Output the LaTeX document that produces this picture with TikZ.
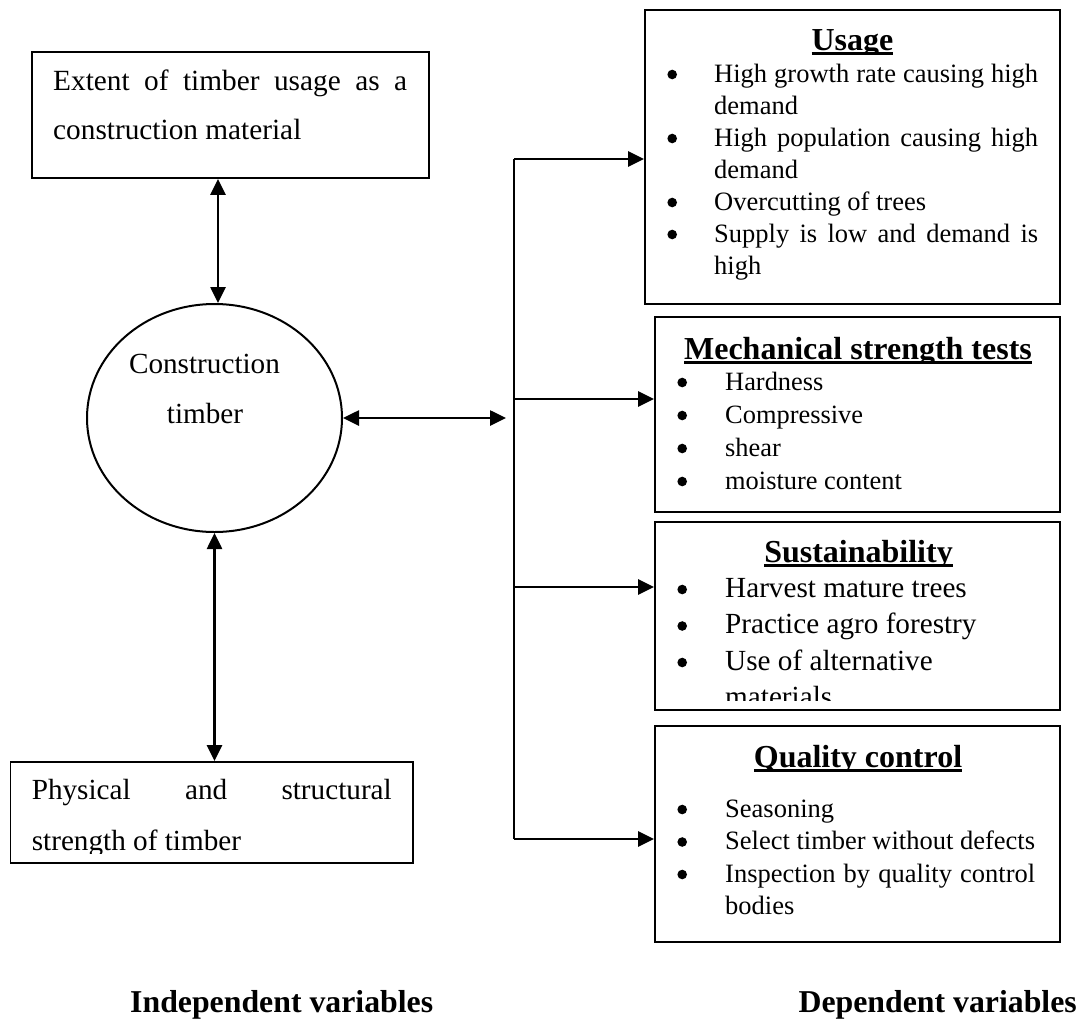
\documentclass[tikz,border=0pt]{standalone}
\usepackage{fontspec}
\setmainfont{Liberation Serif}
\usetikzlibrary{shapes.geometric,arrows.meta}
\newcommand\fsz[2]{\fontsize{#1pt}{#2pt}\selectfont}
\newlength\hng
\newcommand\bdot{\tikz[x=1pt,y=1pt,baseline=0pt]\fill[black] (4.8,7.5) circle[radius=4.8pt];}
\newcommand\bitem[1]{\par\noindent\hangindent=\hng\hangafter=1\makebox[\hng][l]{\bdot}#1}
\newcommand\jline[2]{\leavevmode\hbox to #1{#2}}
\newcommand\ttl[1]{\setbox0\hbox{\bfseries #1}\copy0\llap{\color{white}\rule[-14pt]{\wd0}{9pt}}\llap{\rule[-5pt]{\wd0}{2.6pt}}}
\tikzset{
  box/.style={draw, line width=1.8pt, rectangle, inner sep=0pt},
  txt/.style={inner sep=0pt, anchor=base west},
  arr/.style={line width=2.6pt, -{Triangle[length=16pt,width=15pt]}},
  dbl/.style={line width=2.6pt, {Triangle[length=16pt,width=15pt]}-{Triangle[length=16pt,width=15pt]}},
  bus/.style={line width=2pt}
}
\begin{document}
\begin{tikzpicture}[x=1pt,y=-1pt]
\useasboundingbox (0,0) rectangle (1084,1020);
% left side
\node[box, minimum width=397pt, minimum height=126pt] (ext) at (230.5,115) {};
\node[txt] (exttxt) at (53,90) {\parbox[t]{360pt}{\fsz{29.3}{49}\raggedright\noindent\jline{354pt}{Extent of timber usage as a}\newline construction material}};
\node[draw, line width=2pt, ellipse, minimum width=255pt, minimum height=228pt, inner sep=0pt] (ct) at (214.5,418) {};
\node[inner sep=0pt, anchor=base] (ct1) at (204.5,373) {\fsz{29.2}{35}Construction};
\node[inner sep=0pt, anchor=base] (ct2) at (205,423) {\fsz{29.2}{35}timber};
\node[box, minimum width=402.5pt, minimum height=101pt] (phys) at (211.75,812.5) {};
\begin{scope}
\clip (10,762) rectangle (413,853);
\node[txt] (phystxt) at (31.6,799) {\parbox[t]{370pt}{\fsz{29.2}{51}\raggedright\noindent\jline{360pt}{Physical and structural}\newline strength of timber}};
\end{scope}
% right side boxes
\node[box, minimum width=415pt, minimum height=294pt] (use) at (852.5,157) {};
\node[inner sep=0pt, anchor=base] (usettl) at (852.5,50) {\fsz{32}{38}\ttl{Usage}};
\node[txt] (usetxt) at (667.2,82) {\parbox[t]{380pt}{\fsz{26.5}{32}\raggedright\hng=46.8pt
\bitem{\jline{324pt}{High growth rate causing high}\newline demand}
\bitem{\jline{324pt}{High population causing high}\newline demand}
\bitem{Overcutting of trees}
\bitem{\jline{324pt}{Supply is low and demand is}\newline high}}};
\node[box, minimum width=405pt, minimum height=195pt] (mech) at (857.5,414.5) {};
\node[inner sep=0pt, anchor=base] (mechttl) at (858,359) {\fsz{32}{38}\ttl{Mechanical strength tests}};
\node[txt] (mechtxt) at (677.2,390) {\parbox[t]{370pt}{\fsz{26.4}{33}\raggedright\hng=47.8pt
\bitem{Hardness}
\bitem{Compressive}
\bitem{shear}
\bitem{moisture content}}};
\node[box, minimum width=405pt, minimum height=188pt] (sust) at (857.5,616) {};
\node[inner sep=0pt, anchor=base] (sustttl) at (858.5,562) {\fsz{32}{38}\ttl{Sustainability}};
\begin{scope}
\clip (655,522) rectangle (1060,700);
\node[txt] (susttxt) at (677.2,597) {\parbox[t]{370pt}{\fsz{29.2}{36.5}\raggedright\hng=47.8pt
\bitem{Harvest mature trees}
\bitem{Practice agro forestry}
\bitem{Use of alternative\newline materials}}};
\end{scope}
\node[box, minimum width=405pt, minimum height=216pt] (qual) at (857.5,834) {};
\node[inner sep=0pt, anchor=base] (qualttl) at (858,767) {\fsz{32}{38}\ttl{Quality control}};
\node[txt] (qualtxt) at (677.2,817) {\parbox[t]{370pt}{\fsz{26.5}{32.5}\raggedright\hng=47.8pt
\bitem{Seasoning}
\bitem{Select timber without defects}
\bitem{\jline{310pt}{Inspection by quality control}\newline bodies}}};
% bottom labels
\node[txt] (indep) at (130,1012) {\fsz{31.8}{38}\bfseries Independent variables};
\node[inner sep=0pt, anchor=base east] (dep) at (1077,1012) {\fsz{31.8}{38}\bfseries Dependent variables};
% connectors
\coordinate (tx) at (218,0);
\draw[dbl] (ext.south -| tx) -- (ct.north -| tx);
\draw[dbl] (ct.south) -- (ct.south |- phys.north);
\coordinate (hb) at (506,418);
\draw[dbl] (ct.east) -- (hb);
\coordinate (b1) at (514,159);
\coordinate (b2) at (514,399);
\coordinate (b3) at (514,587);
\coordinate (b4) at (514,839);
\draw[bus] (b1) -- (b4);
\draw[arr] (b1) -- (b1 -| use.west);
\draw[arr] (b2) -- (b2 -| mech.west);
\draw[arr] (b3) -- (b3 -| sust.west);
\draw[arr] (b4) -- (b4 -| qual.west);
\end{tikzpicture}
\end{document}
